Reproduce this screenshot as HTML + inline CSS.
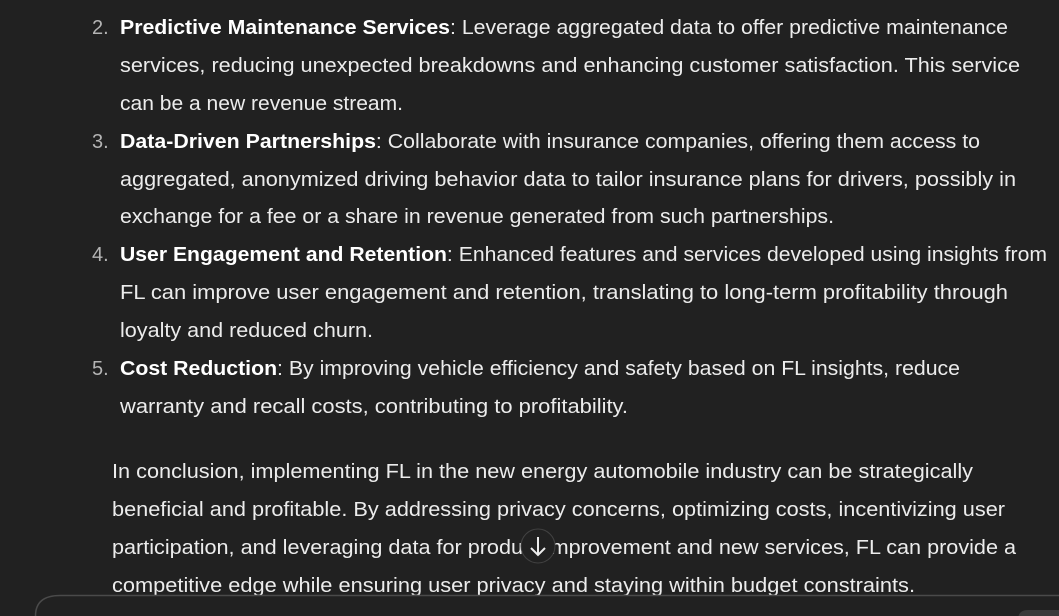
<!DOCTYPE html>
<html><head><meta charset="utf-8"><style>
html,body{margin:0;padding:0;background:#212121;width:1059px;height:616px;overflow:hidden}
svg{display:block}
text{font-family:"Liberation Sans",sans-serif;font-size:20px;fill:#ececec}
.n{fill:#b4b4b4}
</style></head><body>
<svg width="1059" height="616" viewBox="0 0 1059 616">
<rect width="1059" height="616" fill="#212121"/>
<text class="n" x="92" y="34">2.</text>
<text x="120" y="34" textLength="888" lengthAdjust="spacingAndGlyphs"><tspan font-weight="bold" fill="#fff">Predictive Maintenance Services</tspan>: Leverage aggregated data to offer predictive maintenance</text>
<text x="120" y="72" textLength="900" lengthAdjust="spacingAndGlyphs">services, reducing unexpected breakdowns and enhancing customer satisfaction. This service</text>
<text x="120" y="110" textLength="283" lengthAdjust="spacingAndGlyphs">can be a new revenue stream.</text>
<text class="n" x="92" y="148">3.</text>
<text x="120" y="148" textLength="860" lengthAdjust="spacingAndGlyphs"><tspan font-weight="bold" fill="#fff">Data-Driven Partnerships</tspan>: Collaborate with insurance companies, offering them access to</text>
<text x="120" y="186" textLength="896" lengthAdjust="spacingAndGlyphs">aggregated, anonymized driving behavior data to tailor insurance plans for drivers, possibly in</text>
<text x="120" y="223" textLength="714" lengthAdjust="spacingAndGlyphs">exchange for a fee or a share in revenue generated from such partnerships.</text>
<text class="n" x="92" y="261">4.</text>
<text x="120" y="261" textLength="927" lengthAdjust="spacingAndGlyphs"><tspan font-weight="bold" fill="#fff">User Engagement and Retention</tspan>: Enhanced features and services developed using insights from</text>
<text x="120" y="299" textLength="888" lengthAdjust="spacingAndGlyphs">FL can improve user engagement and retention, translating to long-term profitability through</text>
<text x="120" y="337" textLength="253" lengthAdjust="spacingAndGlyphs">loyalty and reduced churn.</text>
<text class="n" x="92" y="375">5.</text>
<text x="120" y="375" textLength="840" lengthAdjust="spacingAndGlyphs"><tspan font-weight="bold" fill="#fff">Cost Reduction</tspan>: By improving vehicle efficiency and safety based on FL insights, reduce</text>
<text x="120" y="413" textLength="508" lengthAdjust="spacingAndGlyphs">warranty and recall costs, contributing to profitability.</text>
<text x="112" y="478" textLength="861" lengthAdjust="spacingAndGlyphs">In conclusion, implementing FL in the new energy automobile industry can be strategically</text>
<text x="112" y="516" textLength="893" lengthAdjust="spacingAndGlyphs">beneficial and profitable. By addressing privacy concerns, optimizing costs, incentivizing user</text>
<text x="112" y="554" textLength="904" lengthAdjust="spacingAndGlyphs">participation, and leveraging data for product improvement and new services, FL can provide a</text>
<text x="112" y="592" textLength="803" lengthAdjust="spacingAndGlyphs">competitive edge while ensuring user privacy and staying within budget constraints.</text>
<circle cx="538" cy="546" r="17" fill="#212121" stroke="#424242" stroke-width="1"/>
<path d="M538 537 V555 M531 548 L538 555 L545 548" stroke="#ececec" stroke-width="2" fill="none"/>
<path d="M35 616 V616 Q35 595 60 595 H1059 V616 Z" fill="#212121"/>
<path d="M35.5 616 Q35.5 595.5 60 595.5 H1059" fill="none" stroke="#4a4a4a" stroke-width="1.5"/>
<path d="M1018 616 V620 Q1018 610 1028 610 H1059 V616 Z" fill="#3a3a3a"/>
</svg>
</body></html>
